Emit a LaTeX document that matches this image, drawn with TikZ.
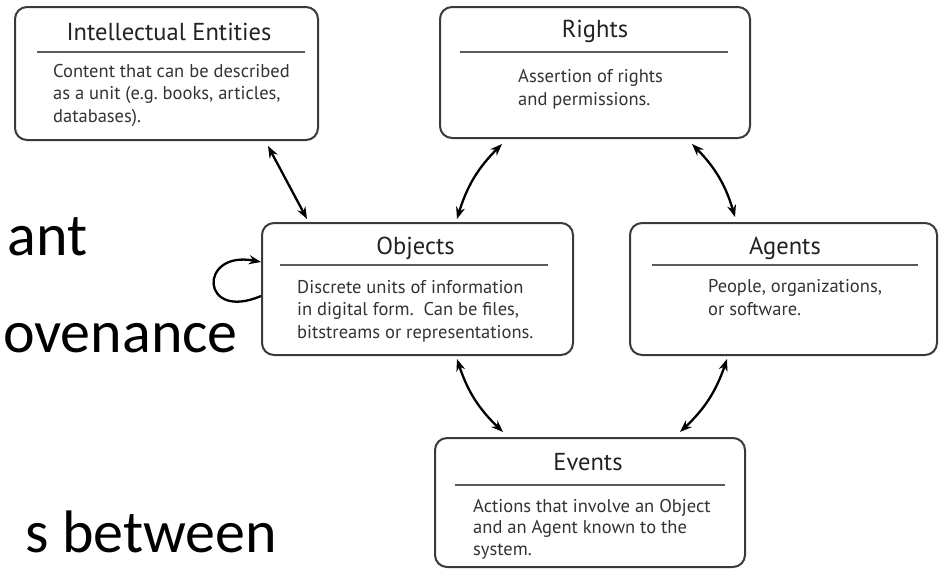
\documentclass[tikz,border=0pt]{standalone}
\usepackage{fontspec}
\usetikzlibrary{arrows.meta}
\newfontfamily\diagfont{PT Sans}
\newfontfamily\slidefont{Carlito}
\definecolor{boxline}{HTML}{3A3A3A}
\definecolor{ruleline}{HTML}{5A5A5A}
\definecolor{bodytext}{HTML}{333333}
\definecolor{titletext}{HTML}{222222}

\tikzset{
  entity/.style={draw=boxline, line width=2pt, rounded corners=12pt, fill=white, inner sep=0pt},
  heading/.style={anchor=base, inner sep=0pt, text=titletext, font=\diagfont\fontsize{24.5}{28}\selectfont},
  % multi-line blocks are placed by the baseline of their last line
  bodyblock/.style={anchor=base west, inner sep=0pt, align=left, text=bodytext,
    font=\diagfont\fontsize{18.5}{22.5}\selectfont},
  divider/.style={draw=ruleline, line width=1.5pt},
  relation/.style={line width=2.3pt, black, {Stealth[length=12pt,width=9pt]}-{Stealth[length=12pt,width=9pt]}},
  selfrel/.style={line width=2.3pt, black, -{Stealth[length=12pt,width=9pt]}},
  slideline/.style={anchor=base east, inner sep=0pt, text=black, font=\slidefont\fontsize{60}{72}\selectfont}
}

\begin{document}
\begin{tikzpicture}[x=1pt, y=-1pt]
  \useasboundingbox (0,0) rectangle (942,570);

  % fragments of the slide's bullet text
  \node[slideline] (s1) at (88,255) {ant};
  \node[slideline] (s2) at (238,352) {ovenance};
  \node[slideline] (s3) at (277,552) {s between};

  % entity boxes
  \node[entity, minimum width=303pt, minimum height=133pt] (ie) at (166.5,73.5) {};
  \node[entity, minimum width=310pt, minimum height=131pt] (rights) at (595,72.5) {};
  \node[entity, minimum width=311pt, minimum height=132pt] (obj) at (417.5,289) {};
  \node[entity, minimum width=307pt, minimum height=132pt] (agents) at (783.5,289) {};
  \node[entity, minimum width=310pt, minimum height=129pt] (events) at (590,502.5) {};

  % Intellectual Entities
  \node[heading] (ie-t) at (169,40) {Intellectual Entities};
  \draw[divider] (37,52) -- (305,52);
  \node[bodyblock] (ie-b) at (53,122) {Content that can be described\\as a unit (e.g.\ books, articles,\\databases).};

  % Rights
  \node[heading] (rights-t) at (595,37) {Rights};
  \draw[divider] (460,52) -- (728,52);
  \node[bodyblock] (rights-b) at (518,105) {Assertion of rights\\and permissions.};

  % Objects
  \node[heading] (obj-t) at (415.5,254) {Objects};
  \draw[divider] (280,265) -- (548,265);
  \node[bodyblock] (obj-b) at (297,338) {Discrete units of information\\in digital form.\ \ Can be files,\\bitstreams or representations.};

  % Agents
  \node[heading] (agents-t) at (785,254) {Agents};
  \draw[divider] (652,265) -- (918,265);
  \node[bodyblock] (agents-b) at (708,315) {People, organizations,\\or software.};

  % Events
  \node[heading] (events-t) at (588,470) {Events};
  \draw[divider] (455,485) -- (725,485);
  \node[bodyblock, font=\diagfont\fontsize{18.5}{21.5}\selectfont] (events-b) at (473,555) {Actions that involve an Object\\and an Agent known to the\\system.};

  % relationships
  \draw[relation] ([xshift=101.5pt,yshift=-5pt]ie.south) -- ([xshift=-110.5pt,yshift=3pt]obj.north);
  \draw[relation] ([xshift=-93pt,yshift=-5pt]rights.south) to[bend right=14] ([xshift=39.5pt,yshift=3pt]obj.north);
  \draw[relation] ([xshift=97pt,yshift=-5pt]rights.south) to[bend left=14] ([xshift=-48.5pt,yshift=5pt]agents.north);
  \draw[relation] ([xshift=39.5pt,yshift=-3pt]obj.south) to[bend right=14] ([xshift=-87pt,yshift=5pt]events.north);
  \draw[relation] ([xshift=-56.5pt,yshift=-3pt]agents.south) to[bend left=14] ([xshift=90pt,yshift=5pt]events.north);

  % an object related to itself
  \draw[selfrel] ([yshift=-7pt]obj.west) .. controls (200,322) and (198,250) .. ([yshift=27pt]obj.west);
\end{tikzpicture}
\end{document}
